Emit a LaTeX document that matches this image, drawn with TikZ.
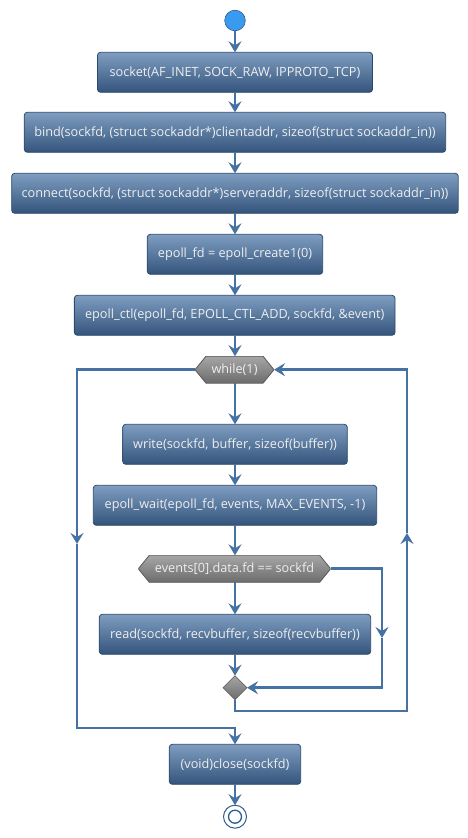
\documentclass[tikz,border=0pt]{standalone}
\usepackage{fontspec}
\setmainfont{Open Sans}
\usetikzlibrary{arrows.meta,shapes.geometric}
\definecolor{arrowc}{HTML}{4672A3}
\definecolor{boxtop}{HTML}{7E9DC0}
\definecolor{boxbot}{HTML}{34547C}
\definecolor{boxborder}{HTML}{2C4A6C}
\definecolor{hextop}{HTML}{A6A6A6}
\definecolor{hexbot}{HTML}{6C6C6C}
\definecolor{hexborder}{HTML}{5A5A5A}
\definecolor{startc}{HTML}{3A9AF0}
\definecolor{startborder}{HTML}{2E5E8E}
\definecolor{txt}{HTML}{EEEEEE}
\tikzset{
  flow/.style={draw=arrowc, line width=2.8pt, -{Stealth[length=11pt,width=13pt,inset=4pt]}},
  plain/.style={draw=arrowc, line width=2.8pt},
  actbox/.style={rectangle, rounded corners=3pt, draw=boxborder, line width=0.8pt,
    top color=boxtop, bottom color=boxbot, text=txt, minimum height=40pt,
    inner xsep=6pt, outer sep=0pt, font=\fontsize{12.7}{15}\selectfont},
  hexa/.style={rectangle, minimum height=27pt, inner sep=0pt, outer sep=0pt, text=txt,
    font=\fontsize{12.7}{15}\selectfont,
    path picture={\shade[top color=hextop, bottom color=hexbot, draw=hexborder, line width=0.8pt]
      (path picture bounding box.west) -- ([xshift=11pt]path picture bounding box.north west)
      -- ([xshift=-11pt]path picture bounding box.north east) -- (path picture bounding box.east)
      -- ([xshift=-11pt]path picture bounding box.south east) -- ([xshift=11pt]path picture bounding box.south west) -- cycle;}},
  mergebox/.style={diamond, minimum width=24pt, minimum height=24pt, inner sep=0pt, outer sep=0pt,
    top color=hextop, bottom color=hexbot, draw=hexborder, line width=0.6pt},
}
\begin{document}
\begin{tikzpicture}[x=1pt,y=-1pt]
\useasboundingbox (0,0) rectangle (468,838);
\node[circle, minimum size=20.6pt, inner sep=0pt, outer sep=0pt, fill=startc, draw=startborder, line width=0.6pt] (start) at (235,20.5) {};
\node[actbox, minimum width=275pt] (sock) at (235,72.3) {socket(AF\_INET, SOCK\_RAW, IPPROTO\_TCP)};
\node[actbox, minimum width=421.4pt] (bind) at (235,132.3) {bind(sockfd, (struct sockaddr*)clientaddr, sizeof(struct sockaddr\_in))};
\node[actbox, minimum width=446.6pt] (conn) at (235,193.3) {connect(sockfd, (struct sockaddr*)serveraddr, sizeof(struct sockaddr\_in))};
\node[actbox, minimum width=175.4pt] (efd) at (235,254.3) {epoll\_fd = epoll\_create1(0)};
\node[actbox, minimum width=320.7pt] (ectl) at (234.7,315.3) {epoll\_ctl(epoll\_fd, EPOLL\_CTL\_ADD, sockfd, \&event)};
\node[hexa, minimum width=79pt] (wh) at (234.5,369.7) {while(1)};
\node[actbox, minimum width=224.6pt] (wr) at (235,444.3) {write(sockfd, buffer, sizeof(buffer))};
\node[actbox, minimum width=283.4pt] (ew) at (235,505.3) {epoll\_wait(epoll\_fd, events, MAX\_EVENTS, -1)};
\node[hexa, minimum width=192.4pt] (ev) at (234.5,568.8) {events[0].data.fd == sockfd};
\node[actbox, minimum width=271.4pt] (rd) at (235,634.3) {read(sockfd, recvbuffer, sizeof(recvbuffer))};
\node[mergebox] (mg) at (235,687.7) {};
\node[actbox, minimum width=131.4pt] (cl) at (235,764.3) {(void)close(sockfd)};
\node[circle, minimum size=23pt, inner sep=0pt, outer sep=0pt, draw=startborder, fill=white, line width=1pt] (fin) at (235,816.7) {};
\node[circle, minimum size=13pt, inner sep=0pt, draw=startborder, line width=1.3pt] (finin) at (fin.center) {};
% coordinates for bends
\coordinate (lt) at (77,369.7);
\coordinate (lmid) at (77,544);
\coordinate (lb) at (77,728);
\coordinate (rt) at (407,369.7);
\coordinate (rmid) at (407,533);
\coordinate (db) at (235,711);
\coordinate (emid) at (382,638);
% main flow
\draw[flow] (start) -- (sock);
\draw[flow] (sock) -- (bind);
\draw[flow] (bind) -- (conn);
\draw[flow] (conn) -- (efd);
\draw[flow] (efd) -- (ectl.north -| efd);
\draw[flow] (ectl.south -| efd) -- (wh.north -| efd);
\draw[flow] (wh.south -| efd) -- (wr.north -| efd);
\draw[flow] (wr) -- (ew);
\draw[flow] (ew.south) -- (ev.north -| ew);
\draw[flow] (ev.south -| ew) -- (rd.north);
\draw[flow] (rd) -- (mg);
\draw[flow] (cl) -- (fin);
% if branch (else)
\draw[flow] (ev.east) -| (emid);
\draw[flow] (emid) |- (mg.east);
% loop back
\draw[flow] (mg.south) -- (db) -| (rmid);
\draw[flow] (rmid) -- (rt) -- (wh.east);
% loop exit
\draw[flow] (wh.west) -- (lt) -- (lmid);
\draw[flow] (lmid) -- (lb) -| (cl.north);
\end{tikzpicture}
\end{document}
